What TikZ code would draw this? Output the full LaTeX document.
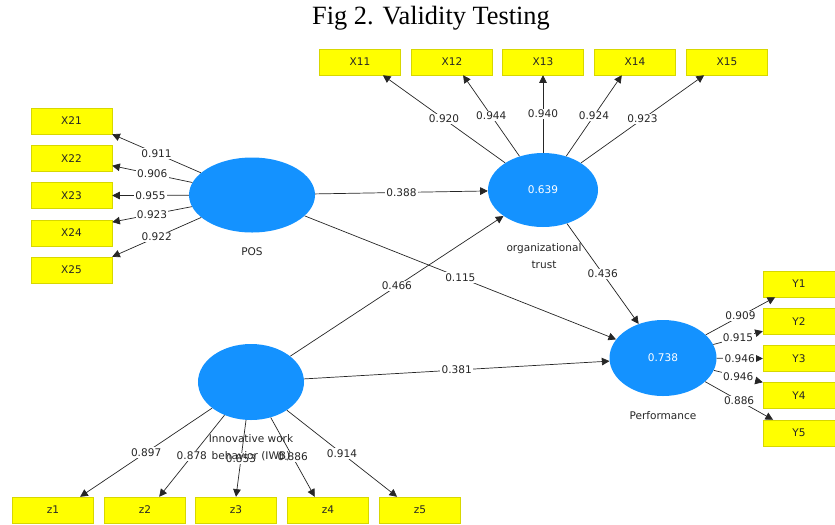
\documentclass[tikz,border=0pt]{standalone}
\usepackage{fontspec}
\setmainfont{Liberation Serif}
\setsansfont{DejaVu Sans}
\usepackage{tikz}
\usetikzlibrary{arrows.meta}
\usetikzlibrary{shapes}
\usetikzlibrary{positioning}

\definecolor{lvblue}{RGB}{20,146,255}
\definecolor{indyellow}{RGB}{255,255,0}
\definecolor{indborder}{RGB}{215,215,0}

\begin{document}
\begin{tikzpicture}[x=0.03cm, y=-0.03cm]
            \tikzset{every node/.style={font=\sffamily\fontsize{9}{10.5}\selectfont, text=black!85},
                    >={Triangle[length=6.5pt,width=6.5pt]},
                    every edge/.style={draw=black!85, line width=0.6pt},
                    lv/.style={ellipse, fill=lvblue, text=white, inner sep=0pt},
                    ind/.style={rectangle, draw=indborder, fill=indyellow, minimum width=2.43cm, minimum height=0.78cm},
                    wt/.style={fill=white, inner sep=1pt}}
            \useasboundingbox (0,0) rectangle (835,524);
            \node[font=\rmfamily\fontsize{22.5}{26}\selectfont, text=black] (title) at (431,18) {Fig 2. Validity Testing};

            % latent variables
            \node[lv, minimum width=3.78cm, minimum height=2.25cm] (pos) at (252,195) {};
            \node[lv, minimum width=3.3cm, minimum height=2.22cm] (ot) at (543,190) {0.639};
            \node[lv, minimum width=3.21cm, minimum height=2.28cm] (perf) at (663,358) {0.738};
            \node[lv, minimum width=3.18cm, minimum height=2.28cm] (iwb) at (251,382) {};

            % indicators
            \node[ind] (x21) at (71.5,121) {X21};
            \node[ind] (x22) at (71.5,158.5) {X22};
            \node[ind] (x23) at (71.5,195.5) {X23};
            \node[ind] (x24) at (71.5,233) {X24};
            \node[ind] (x25) at (71.5,270) {X25};
            \node[ind] (x11) at (360,62) {X11};
            \node[ind] (x12) at (452,62) {X12};
            \node[ind] (x13) at (543,62) {X13};
            \node[ind] (x14) at (635,62) {X14};
            \node[ind] (x15) at (727,62) {X15};
            \node[ind, minimum width=2.16cm] (y1) at (799,284) {Y1};
            \node[ind, minimum width=2.16cm] (y2) at (799,321.5) {Y2};
            \node[ind, minimum width=2.16cm] (y3) at (799,358.5) {Y3};
            \node[ind, minimum width=2.16cm] (y4) at (799,395.5) {Y4};
            \node[ind, minimum width=2.16cm] (y5) at (799,433) {Y5};
            \node[ind] (z1) at (53,510) {z1};
            \node[ind] (z2) at (145,510) {z2};
            \node[ind] (z3) at (236,510) {z3};
            \node[ind] (z4) at (328,510) {z4};
            \node[ind] (z5) at (420,510) {z5};

            % outer loadings
            \path [->] (pos) edge node[wt] {0.911} (x21.south east);
            \path [->] (pos) edge node[wt] {0.906} (x22.-10);
            \path [->] (pos) edge node[wt] {0.955} (x23.east);
            \path [->] (pos) edge node[wt] {0.923} (x24.15);
            \path [->] (pos) edge node[wt] {0.922} (x25.north east);
            \path [->] (ot) edge node[wt] {0.920} (x11.-30);
            \path [->] (ot) edge node[wt] {0.944} (x12.-50);
            \path [->] (ot) edge node[wt] {0.940} (x13.south);
            \path [->] (ot) edge node[wt] {0.924} (x14.-135);
            \path [->] (ot) edge node[wt] {0.923} (x15.-150);
            \path [->] (perf) edge node[wt] {0.909} (y1.-151);
            \path [->] (perf) edge node[wt] {0.915} (y2.195);
            \path [->] (perf) edge node[wt] {0.946} (y3.west);
            \path [->] (perf) edge node[wt] {0.946} (y4.north west);
            \path [->] (perf) edge node[wt] {0.886} (y5.153);
            \path [->] (iwb) edge node[wt] {0.897} (z1.26);
            \path [->] (iwb) edge node[wt] {0.878} (z2.43);
            \path [->] (iwb) edge node[wt] {0.853} (z3.north);
            \path [->] (iwb) edge node[wt] {0.886} (z4.135);
            \path [->] (iwb) edge node[wt] {0.914} (z5.150);

            % path coefficients
            \path [->] (pos) edge node[wt] {0.388} (ot);
            \path [->] (pos) edge node[wt] {0.115} (perf);
            \path [->] (iwb) edge node[wt] {0.466} (ot);
            \path [->] (iwb) edge node[wt] {0.381} (perf);
            \path [->] (ot) edge node[wt] {0.436} (perf);

            % construct names
            \node (poslbl) at (252,252) {POS};
            \node[align=center, font=\sffamily\fontsize{9}{14.5}\selectfont] (otlbl) at (544,256) {organizational\\trust};
            \node (perflbl) at (663,416) {Performance};
            \node[align=center, font=\sffamily\fontsize{9}{14.5}\selectfont] (iwblbl) at (251,448) {Innovative work\\behavior (IWB)};
        \end{tikzpicture}
\end{document}
